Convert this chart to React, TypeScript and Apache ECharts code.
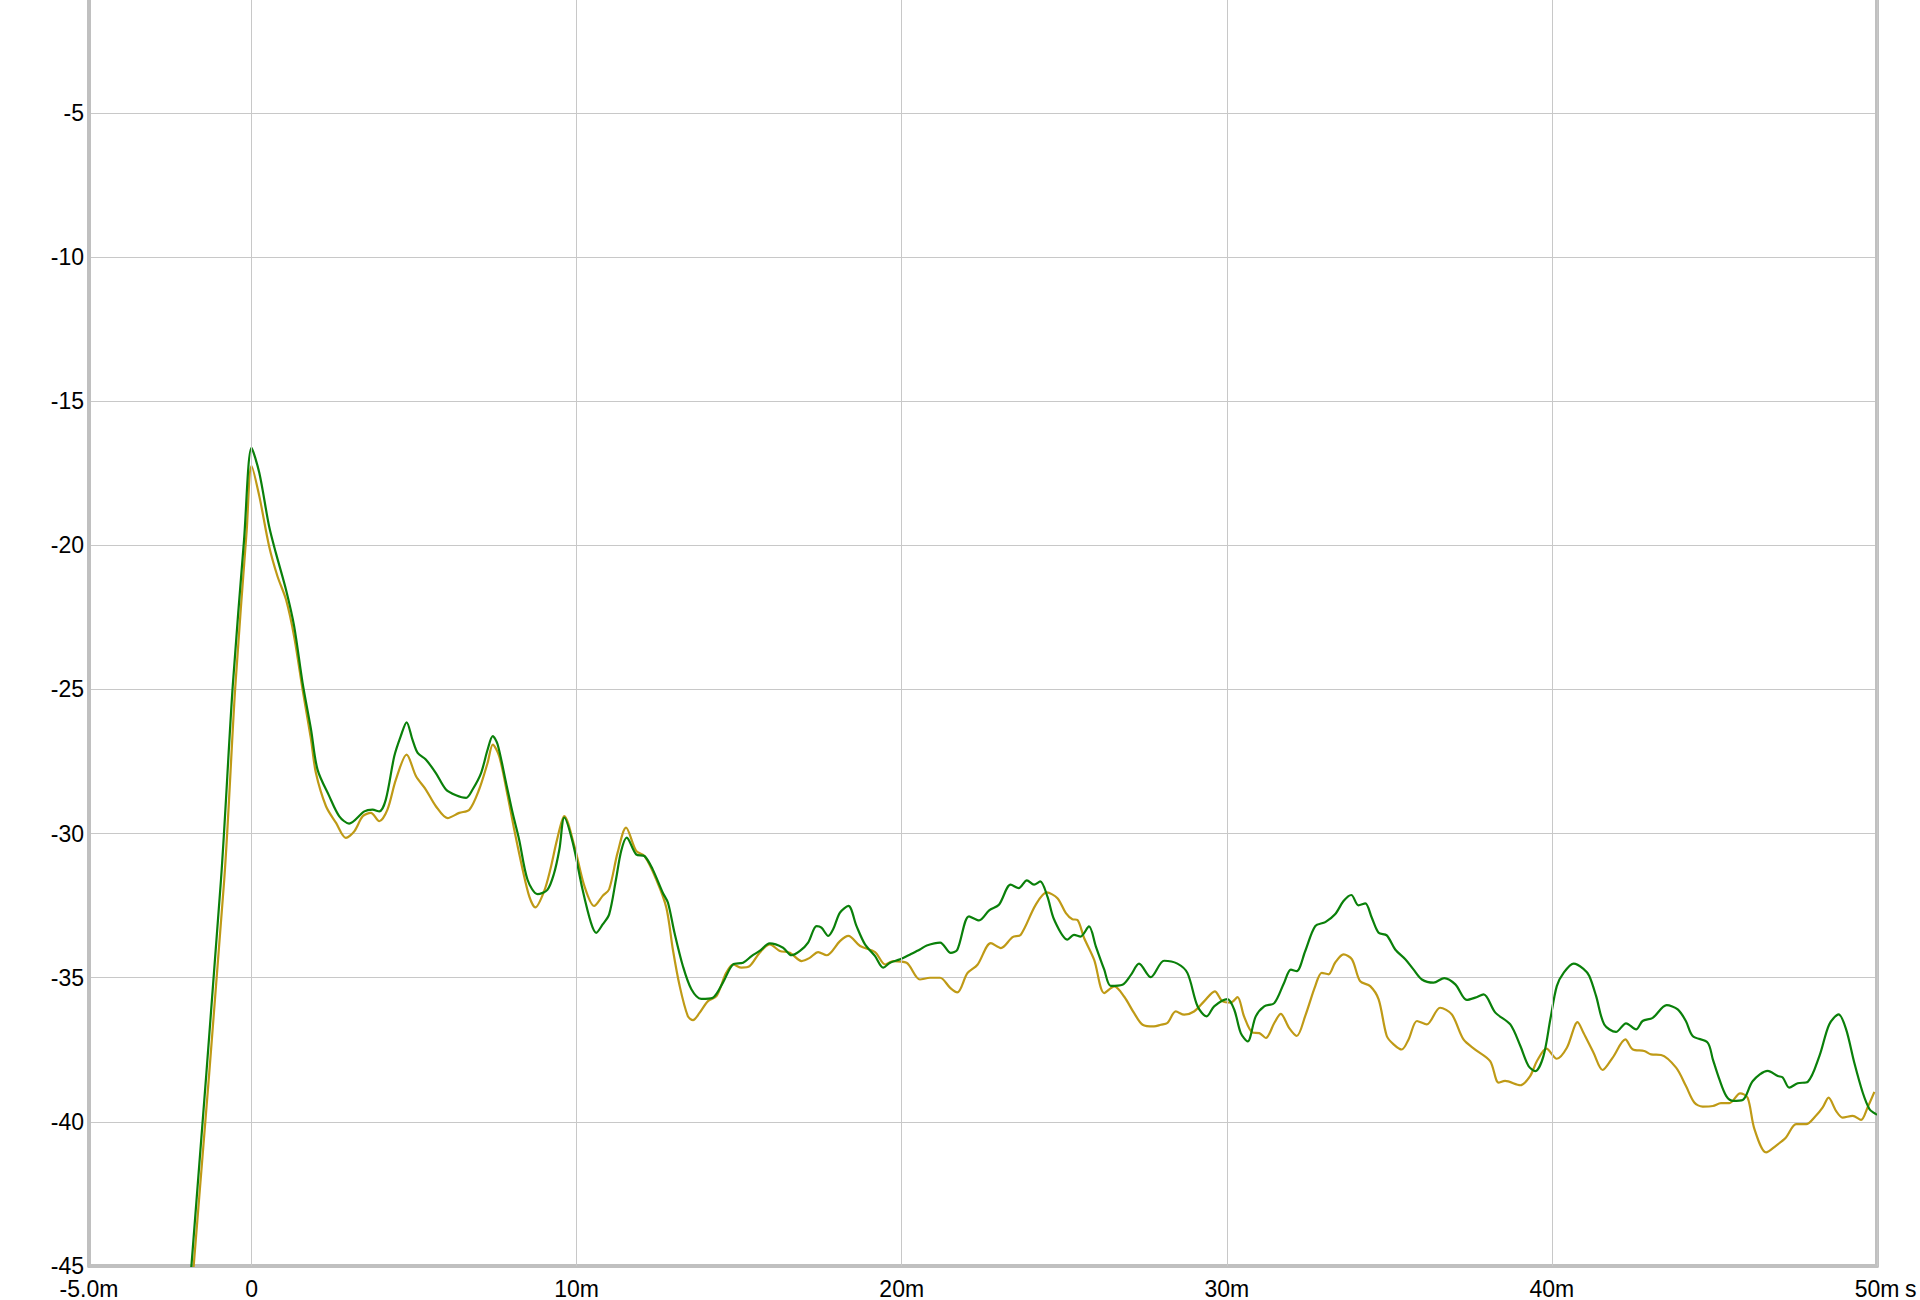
import React, { useEffect, useRef } from "react";
import * as echarts from "echarts";

// time in ms, level in dB
const greenSeries: [number, number][] = [
  [-2.0, -47.3], [-1.85, -45], [-0.94, -31.6], [-0.58, -24.9], [-0.23, -19.8], [0, -16.62],
  [0.24, -17.49], [0.54, -19.34], [0.75, -20.27], [1.06, -21.54], [1.31, -22.8], [1.57, -24.77],
  [1.83, -26.39], [2.03, -27.78], [2.39, -28.7], [2.7, -29.4], [3.0, -29.65], [3.47, -29.23],
  [3.72, -29.17], [3.93, -29.23], [4.13, -28.82], [4.39, -27.32], [4.59, -26.62], [4.77, -26.14],
  [4.95, -26.74], [5.11, -27.2], [5.36, -27.43], [5.67, -27.9], [5.98, -28.47], [6.29, -28.67],
  [6.6, -28.76], [6.8, -28.47], [7.06, -27.9], [7.26, -27.09], [7.42, -26.62], [7.57, -26.91],
  [7.83, -28.24], [8.03, -29.28], [8.23, -30.2], [8.49, -31.6], [8.8, -32.1], [9.1, -31.95],
  [9.3, -31.4], [9.47, -30.54], [9.62, -29.44], [9.88, -30.31], [10.18, -31.93], [10.44, -33.09],
  [10.6, -33.44], [10.8, -33.15], [11.0, -32.8], [11.21, -31.59], [11.37, -30.6], [11.54, -30.14],
  [11.83, -30.72], [12.09, -30.78], [12.34, -31.24], [12.65, -32.05], [12.81, -32.4], [13.01, -33.44],
  [13.27, -34.6], [13.53, -35.4], [13.83, -35.73], [14.19, -35.69], [14.5, -35.17], [14.81, -34.54],
  [15.12, -34.48], [15.38, -34.25], [15.63, -34.07], [15.94, -33.81], [16.35, -33.96], [16.61, -34.22],
  [16.87, -34.07], [17.12, -33.78], [17.38, -33.21], [17.53, -33.26], [17.74, -33.55], [17.89, -33.32],
  [18.1, -32.74], [18.36, -32.51], [18.61, -33.21], [18.87, -33.84], [19.18, -34.25], [19.43, -34.65],
  [19.64, -34.48], [19.95, -34.36], [20.26, -34.19], [20.56, -34.02], [20.77, -33.88], [21.18, -33.78],
  [21.51, -34.14], [21.71, -34.03], [22.07, -32.87], [22.38, -33.01], [22.69, -32.66], [22.99, -32.47],
  [23.35, -31.77], [23.6, -31.89], [23.85, -31.62], [24.07, -31.77], [24.26, -31.66], [24.48, -32.18],
  [24.69, -32.99], [25.1, -33.68], [25.3, -33.51], [25.5, -33.57], [25.76, -33.22], [25.97, -33.91],
  [26.23, -34.72], [26.43, -35.28], [26.79, -35.24], [27.05, -34.9], [27.3, -34.51], [27.66, -34.98],
  [28.07, -34.41], [28.48, -34.51], [28.79, -34.84], [29.1, -35.99], [29.38, -36.34], [29.61, -35.99],
  [30.02, -35.74], [30.23, -36.11], [30.43, -36.92], [30.64, -37.21], [30.89, -36.34], [31.15, -35.99],
  [31.46, -35.88], [31.76, -35.18], [31.97, -34.72], [32.15, -34.77], [32.41, -34.08], [32.72, -33.21],
  [33.03, -33.07], [33.33, -32.8], [33.59, -32.34], [33.83, -32.13], [34.05, -32.49], [34.26, -32.42],
  [34.46, -32.92], [34.67, -33.44], [34.92, -33.53], [35.18, -34.02], [35.49, -34.36], [35.74, -34.71],
  [36.0, -35.06], [36.36, -35.17], [36.69, -35.01], [37.03, -35.23], [37.38, -35.77], [37.64, -35.69],
  [37.9, -35.58], [38.26, -36.21], [38.72, -36.62], [39.03, -37.37], [39.28, -38.06], [39.49, -38.24],
  [39.74, -37.72], [39.95, -36.45], [40.15, -35.29], [40.36, -34.83], [40.67, -34.51], [40.97, -34.69],
  [41.15, -34.94], [41.36, -35.64], [41.61, -36.62], [41.97, -36.88], [42.28, -36.58], [42.59, -36.79],
  [42.79, -36.5], [43.1, -36.39], [43.53, -35.95], [43.87, -36.1], [44.12, -36.5], [44.33, -37.02],
  [44.79, -37.25], [44.95, -37.83], [45.15, -38.52], [45.36, -39.1], [45.56, -39.27], [45.87, -39.24],
  [46.18, -38.58], [46.64, -38.23], [46.95, -38.41], [47.1, -38.46], [47.3, -38.81], [47.56, -38.66],
  [47.87, -38.61], [48.23, -37.71], [48.53, -36.62], [48.82, -36.27], [49.05, -36.79], [49.3, -37.94],
  [49.56, -38.98], [49.77, -39.56], [49.92, -39.7], [50, -39.75],
];

const goldSeries: [number, number][] = [
  [-1.95, -47.5], [-1.78, -45], [-0.84, -31.6], [-0.5, -24.9], [-0.15, -19.5], [0, -17.24],
  [0.24, -18.3], [0.54, -20.03], [0.8, -21.08], [1.06, -21.88], [1.31, -23.16], [1.57, -25.0],
  [1.83, -26.74], [1.98, -27.9], [2.29, -29.05], [2.6, -29.63], [2.9, -30.15], [3.16, -29.92],
  [3.42, -29.4], [3.67, -29.28], [3.93, -29.57], [4.18, -29.17], [4.44, -28.13], [4.77, -27.26],
  [5.06, -28.01], [5.36, -28.47], [5.67, -29.05], [6.03, -29.46], [6.39, -29.28], [6.7, -29.17],
  [7.0, -28.47], [7.26, -27.55], [7.42, -26.91], [7.62, -27.32], [7.88, -28.7], [8.08, -29.86],
  [8.34, -31.25], [8.55, -32.2], [8.73, -32.56], [9.0, -32.0], [9.2, -31.2], [9.4, -30.2],
  [9.62, -29.39], [9.93, -30.43], [10.24, -31.82], [10.54, -32.51], [10.8, -32.16], [11.0, -31.93],
  [11.26, -30.66], [11.52, -29.79], [11.83, -30.6], [12.09, -30.78], [12.45, -31.59], [12.76, -32.57],
  [12.96, -34.02], [13.17, -35.29], [13.42, -36.33], [13.58, -36.47], [13.78, -36.22], [14.04, -35.81],
  [14.3, -35.64], [14.6, -34.83], [14.81, -34.54], [15.07, -34.65], [15.32, -34.6], [15.63, -34.13],
  [15.94, -33.84], [16.25, -34.07], [16.56, -34.13], [16.92, -34.42], [17.17, -34.31], [17.43, -34.11],
  [17.69, -34.22], [18.1, -33.73], [18.36, -33.55], [18.72, -33.9], [19.18, -34.11], [19.49, -34.54],
  [19.74, -34.42], [20.15, -34.48], [20.56, -35.06], [20.87, -35.0], [21.18, -35.0], [21.49, -35.35],
  [21.71, -35.51], [22.02, -34.84], [22.33, -34.55], [22.74, -33.8], [23.05, -33.97], [23.41, -33.59],
  [23.66, -33.51], [24.12, -32.47], [24.46, -32.04], [24.79, -32.24], [25.05, -32.76], [25.25, -32.97],
  [25.4, -32.99], [25.61, -33.62], [25.92, -34.38], [26.23, -35.53], [26.54, -35.3], [26.84, -35.65],
  [27.15, -36.23], [27.41, -36.63], [27.76, -36.69], [27.97, -36.63], [28.17, -36.57], [28.43, -36.17],
  [28.69, -36.28], [28.99, -36.17], [29.3, -35.82], [29.63, -35.47], [29.87, -35.82], [30.12, -35.86],
  [30.33, -35.67], [30.53, -36.34], [30.79, -36.9], [31.0, -36.92], [31.2, -37.09], [31.46, -36.57],
  [31.66, -36.25], [31.92, -36.75], [32.15, -37.02], [32.41, -36.33], [32.72, -35.29], [32.92, -34.83],
  [33.13, -34.88], [33.33, -34.48], [33.59, -34.19], [33.85, -34.36], [34.1, -35.12], [34.41, -35.29],
  [34.67, -35.75], [34.92, -37.02], [35.13, -37.31], [35.38, -37.49], [35.59, -37.14], [35.85, -36.5],
  [36.15, -36.62], [36.56, -36.04], [36.92, -36.27], [37.28, -37.14], [37.64, -37.49], [38.1, -37.89],
  [38.36, -38.64], [38.56, -38.58], [39.03, -38.73], [39.33, -38.41], [39.54, -37.89], [39.83, -37.46],
  [40.15, -37.81], [40.46, -37.43], [40.79, -36.54], [40.97, -36.91], [41.28, -37.6], [41.56, -38.2],
  [41.87, -37.77], [42.26, -37.14], [42.48, -37.48], [42.84, -37.54], [43.05, -37.66], [43.36, -37.68],
  [43.82, -38.12], [44.12, -38.75], [44.38, -39.33], [44.64, -39.47], [44.95, -39.45], [45.2, -39.35],
  [45.46, -39.35], [45.79, -39.01], [46.02, -39.16], [46.23, -40.25], [46.59, -41.06], [46.89, -40.83],
  [47.2, -40.54], [47.51, -40.08], [47.82, -40.08], [48.12, -39.79], [48.33, -39.5], [48.51, -39.16],
  [48.74, -39.62], [48.94, -39.85], [49.25, -39.79], [49.51, -39.93], [49.71, -39.5], [49.92, -38.96],
];

const xGridValues = [0, 10, 20, 30, 40, 50];
const xTickLabels: Record<string, string> = {
  "-5": "-5.0m",
  "0": "0",
  "10": "10m",
  "20": "20m",
  "30": "30m",
  "40": "40m",
  "50": "50m",
};
const xUnitLabel = "s";

const FONT = "'Liberation Sans', Arial, sans-serif";
const GRID_COLOR = "#c8c8c8";
const AXIS_COLOR = "#c0c0c0";

export default function App() {
  const ref = useRef<HTMLDivElement>(null);
  useEffect(() => {
    if (!ref.current) return;
    const chart = echarts.init(ref.current, undefined, { renderer: "svg" });
    chart.setOption({
      animation: false,
      backgroundColor: "#ffffff",
      grid: { left: 89, right: 43, top: 0, bottom: 34, containLabel: false },
      xAxis: {
        type: "value",
        min: -5,
        max: 50,
        interval: 5,
        axisLine: { show: true, onZero: false, lineStyle: { color: AXIS_COLOR, width: 4 } },
        axisTick: { show: false },
        splitLine: { show: false },
        axisLabel: {
          show: true,
          margin: 11,
          fontSize: 23,
          lineHeight: 23,
          fontFamily: FONT,
          color: "#000",
          formatter: (v: number) => xTickLabels[String(v)] ?? "",
        },
      },
      yAxis: [
        {
          type: "value",
          position: "left",
          min: -45,
          max: -1.08,
          interval: 5,
          axisLine: { show: true, onZero: false, lineStyle: { color: AXIS_COLOR, width: 4 } },
          axisTick: { show: false },
          splitLine: { show: true, showMaxLine: false, lineStyle: { color: GRID_COLOR, width: 1 } },
          axisLabel: {
            show: true,
            margin: 5,
            fontSize: 23,
            fontFamily: FONT,
            color: "#000",
            padding: [7, 0, 0, 0],
            showMaxLabel: false,
            formatter: (v: number) => (Math.abs(v % 5) < 1e-9 ? String(v) : ""),
          },
        },
        {
          type: "value",
          position: "right",
          min: -45,
          max: -1.08,
          interval: 5,
          axisLine: { show: true, onZero: false, lineStyle: { color: AXIS_COLOR, width: 4 } },
          axisTick: { show: false },
          axisLabel: { show: false },
          splitLine: { show: false },
        },
      ],
      graphic: [
        {
          type: "text",
          left: 1905,
          top: 1277,
          style: { text: xUnitLabel, fontSize: 23, fontFamily: FONT, fill: "#000" },
        },
      ],
      series: [
        {
          type: "line",
          data: [],
          z: 1,
          silent: true,
          markLine: {
            silent: true,
            symbol: ["none", "none"],
            label: { show: false },
            emphasis: { disabled: true },
            lineStyle: { color: GRID_COLOR, width: 1, type: "solid" },
            data: xGridValues.map((v) => ({ xAxis: v })),
          },
        },
        {
          type: "line",
          name: "gold",
          data: goldSeries,
          showSymbol: false,
          smooth: 0.3,
          clip: true,
          z: 3,
          lineStyle: { color: "#bf9a16", width: 2.2 },
          itemStyle: { color: "#bf9a16" },
        },
        {
          type: "line",
          name: "green",
          data: greenSeries,
          showSymbol: false,
          smooth: 0.3,
          clip: true,
          z: 4,
          lineStyle: { color: "#0a800a", width: 2.2 },
          itemStyle: { color: "#0a800a" },
        },
      ],
    });
    return () => chart.dispose();
  }, []);
  return (
    <div
      ref={ref}
      style={{ position: "fixed", left: 0, top: 0, width: 1920, height: 1300, background: "#fff" }}
    />
  );
}
